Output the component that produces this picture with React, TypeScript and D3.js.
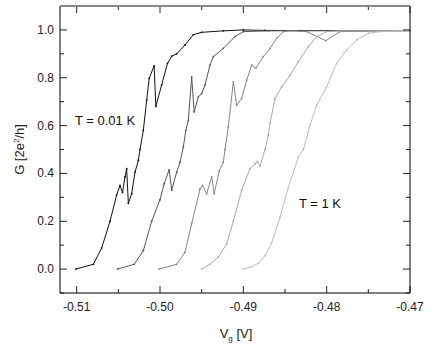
import React, { useEffect, useRef } from 'react';
import * as d3 from 'd3';

// gate voltage (V) and conductance (2e^2/h) for each temperature trace
const curve1V = [-0.5101, -0.508, -0.507, -0.506, -0.5052, -0.5048, -0.5045, -0.5042, -0.504, -0.5038, -0.5034, -0.503, -0.5026, -0.5024, -0.502, -0.5016, -0.5013, -0.5007, -0.5005, -0.4998, -0.4991, -0.4986, -0.498, -0.497, -0.496, -0.495, -0.4924, -0.49, -0.4874, -0.4832, -0.4784, -0.47];
const curve1G = [0, 0.02, 0.088, 0.2, 0.31, 0.35, 0.32, 0.385, 0.42, 0.275, 0.315, 0.405, 0.455, 0.5, 0.58, 0.706, 0.797, 0.85, 0.68, 0.77, 0.86, 0.89, 0.9, 0.937, 0.98, 0.99, 0.996, 1.0, 0.998, 0.997, 0.997, 0.997];

const curve2V = [-0.5051, -0.5031, -0.502, -0.501, -0.5, -0.4995, -0.4989, -0.4986, -0.498, -0.4976, -0.4972, -0.4969, -0.4966, -0.4962, -0.4959, -0.4954, -0.495, -0.4946, -0.494, -0.4936, -0.4924, -0.491, -0.49, -0.487, -0.483, -0.47];
const curve2G = [0, 0.02, 0.077, 0.2, 0.29, 0.357, 0.415, 0.33, 0.405, 0.447, 0.51, 0.58, 0.622, 0.804, 0.657, 0.72, 0.734, 0.77, 0.853, 0.888, 0.923, 0.972, 0.993, 0.996, 0.997, 0.997];

const curve3V = [-0.5001, -0.498, -0.497, -0.4962, -0.4952, -0.4949, -0.4944, -0.4938, -0.4935, -0.4929, -0.4924, -0.4922, -0.4918, -0.4912, -0.4908, -0.4902, -0.4896, -0.489, -0.4885, -0.4876, -0.4868, -0.486, -0.4852, -0.4844, -0.4824, -0.4801, -0.4784, -0.47];
const curve3G = [0, 0.02, 0.07, 0.19, 0.335, 0.35, 0.315, 0.385, 0.315, 0.41, 0.447, 0.5, 0.595, 0.783, 0.685, 0.713, 0.79, 0.853, 0.84, 0.888, 0.923, 0.965, 0.993, 0.996, 0.993, 0.955, 0.993, 0.997];

const curve4V = [-0.495, -0.494, -0.493, -0.492, -0.4912, -0.4902, -0.4892, -0.4886, -0.4883, -0.488, -0.4874, -0.487, -0.4868, -0.4862, -0.4854, -0.4844, -0.4834, -0.4822, -0.4812, -0.48, -0.4784, -0.47];
const curve4G = [0, 0.02, 0.05, 0.105, 0.2, 0.33, 0.42, 0.44, 0.45, 0.43, 0.5, 0.56, 0.61, 0.713, 0.762, 0.81, 0.867, 0.93, 0.972, 0.993, 0.996, 0.997];

const curve5V = [-0.49, -0.489, -0.4882, -0.4874, -0.4866, -0.4856, -0.4846, -0.4834, -0.4828, -0.482, -0.4812, -0.48, -0.4788, -0.4776, -0.4764, -0.475, -0.4736, -0.47];
const curve5G = [0, 0.01, 0.024, 0.056, 0.11, 0.217, 0.342, 0.468, 0.5, 0.6, 0.685, 0.762, 0.86, 0.916, 0.958, 0.986, 0.993, 0.996];

const curves = [
  { v: curve1V, g: curve1G, color: '#111' },
  { v: curve2V, g: curve2G, color: '#555' },
  { v: curve3V, g: curve3G, color: '#858585' },
  { v: curve4V, g: curve4G, color: '#aaa' },
  { v: curve5V, g: curve5G, color: '#bdbdbd' },
];

const xTicks = [-0.51, -0.5, -0.49, -0.48, -0.47];
const yTicks = [0, 0.2, 0.4, 0.6, 0.8, 1.0];

const App = () => {
  const svgRef = useRef<SVGSVGElement>(null);

  useEffect(() => {
    const svg = d3.select(svgRef.current);
    svg.selectAll('*').remove();

    const width = 436;
    const height = 352;
    const margin = { top: 6, right: 26, bottom: 59, left: 60 };
    const w = width - margin.left - margin.right;
    const h = height - margin.top - margin.bottom;
    const font = 'Arial, "Liberation Sans", sans-serif';

    const x = d3.scaleLinear().domain([-0.512, -0.47]).range([0, w]);
    const y = d3.scaleLinear().domain([-0.1, 1.1]).range([h, 0]);

    const chart = svg.append('g').attr('transform', `translate(${margin.left},${margin.top})`);

    // curves
    curves.forEach(c => {
      const pts = c.v.map((v, i) => [v, c.g[i]] as [number, number]);
      const line = d3.line<[number, number]>().x(d => x(d[0])).y(d => y(d[1]));
      chart.append('path')
        .attr('d', line(pts))
        .attr('fill', 'none')
        .attr('stroke', c.color)
        .attr('stroke-width', 1);
      chart.selectAll(null)
        .data(pts)
        .enter()
        .append('circle')
        .attr('cx', d => x(d[0]))
        .attr('cy', d => y(d[1]))
        .attr('r', 0.9)
        .attr('fill', c.color);
    });

    // inward ticks on all four sides
    const xMinor = d3.range(-0.51, -0.4699, 0.005);
    const yMinor = d3.range(-0.1, 1.1001, 0.1);
    const tickStroke = '#222';

    xMinor.forEach((v, i) => {
      const len = i % 2 === 0 ? 7 : 4;
      chart.append('line').attr('x1', x(v)).attr('x2', x(v)).attr('y1', h).attr('y2', h - len).attr('stroke', tickStroke);
      chart.append('line').attr('x1', x(v)).attr('x2', x(v)).attr('y1', 0).attr('y2', len).attr('stroke', tickStroke);
    });
    yMinor.forEach(g => {
      const major = Math.abs(Math.round(g * 10) % 2) === 0;
      const len = major ? 7 : 4;
      chart.append('line').attr('x1', 0).attr('x2', len).attr('y1', y(g)).attr('y2', y(g)).attr('stroke', tickStroke);
      chart.append('line').attr('x1', w).attr('x2', w - len).attr('y1', y(g)).attr('y2', y(g)).attr('stroke', tickStroke);
    });

    // frame
    chart.append('line').attr('x1', 0).attr('x2', 0).attr('y1', 0).attr('y2', h).attr('stroke', '#000');
    chart.append('line').attr('x1', w).attr('x2', w).attr('y1', 0).attr('y2', h).attr('stroke', '#000');
    chart.append('line').attr('x1', 0).attr('x2', w).attr('y1', h).attr('y2', h).attr('stroke', '#000');
    chart.append('line').attr('x1', 0).attr('x2', w).attr('y1', 0).attr('y2', 0).attr('stroke', '#888').attr('stroke-width', 2);

    // tick labels (plain hyphen minus, as in the original)
    chart.selectAll('.xl')
      .data(xTicks)
      .enter()
      .append('text')
      .attr('x', d => x(d))
      .attr('y', h + 18)
      .attr('text-anchor', 'middle')
      .style('font-family', font)
      .style('font-size', '12px')
      .style('fill', '#222')
      .text(d => d.toFixed(2));

    chart.selectAll('.yl')
      .data(yTicks)
      .enter()
      .append('text')
      .attr('x', -6)
      .attr('y', d => y(d) + 4)
      .attr('text-anchor', 'end')
      .style('font-family', font)
      .style('font-size', '12px')
      .style('fill', '#222')
      .text(d => d.toFixed(1));

    // axis titles
    const xt = chart.append('text')
      .attr('x', w / 2 + 1)
      .attr('y', h + 45)
      .attr('text-anchor', 'middle')
      .style('font-family', font)
      .style('font-size', '13px')
      .style('fill', '#222');
    xt.append('tspan').text('V');
    xt.append('tspan').attr('dy', 3).style('font-size', '8px').text('g');
    xt.append('tspan').attr('dy', -3).text(' [V]');

    const yt = chart.append('text')
      .attr('transform', `translate(${-36},${h / 2}) rotate(-90)`)
      .attr('text-anchor', 'middle')
      .style('font-family', font)
      .style('font-size', '13px')
      .style('fill', '#222');
    yt.append('tspan').text('G [2e');
    yt.append('tspan').attr('dy', -5).style('font-size', '8px').text('2');
    yt.append('tspan').attr('dy', 5).text('/h]');

    // temperature annotations
    chart.append('text')
      .attr('x', 15)
      .attr('y', 119)
      .style('font-family', font)
      .style('font-size', '13px')
      .style('fill', '#111')
      .text('T = 0.01 K');
    chart.append('text')
      .attr('x', 239)
      .attr('y', 202)
      .style('font-family', font)
      .style('font-size', '13px')
      .style('fill', '#111')
      .text('T = 1 K');
  }, []);

  return <svg ref={svgRef} width={436} height={352} style={{ position: 'absolute', left: 0, top: 0 }} />;
};

export default App;
